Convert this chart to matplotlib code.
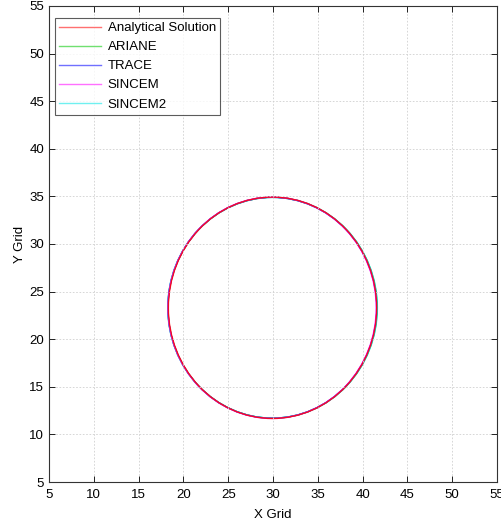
import matplotlib
matplotlib.use("Agg")
import matplotlib.pyplot as plt
from matplotlib.patches import Ellipse
from matplotlib.lines import Line2D

# trajectories: centre and extent (x width, y height)
names = ["Analytical Solution", "ARIANE", "TRACE", "SINCEM", "SINCEM2"]
colors = ["#ff0000", "#00c000", "#0000ff", "#ff00ff", "#00e0e0"]
legend_colors = ["#ff7070", "#70e070", "#7070ff", "#ff70ff", "#70f0f0"]
center_x = [29.95, 29.95, 29.92, 29.90, 29.95]
center_y = [23.30, 23.30, 23.30, 23.30, 23.30]
width_x = [23.25, 23.35, 23.30, 23.25, 23.40]
height_y = [23.25, 23.20, 23.20, 23.25, 23.20]
draw_order = [1, 2, 4, 3, 0]

xticks = list(range(5, 56, 5))
yticks = list(range(5, 56, 5))

plt.rcParams['font.family'] = ['Liberation Sans', 'DejaVu Sans']
fig = plt.figure(figsize=(5.02, 5.25), dpi=100)
ax = fig.add_axes([0.0976, 0.0819, 0.8924, 0.9067])

for i in draw_order:
    ax.add_patch(Ellipse((center_x[i], center_y[i]), width_x[i], height_y[i],
                         fill=False, edgecolor=colors[i], linewidth=1.0, alpha=0.85))

ax.set_xlim(5, 55)
ax.set_ylim(5, 55)
ax.set_xticks(xticks)
ax.set_yticks(yticks)
ax.tick_params(direction='in', top=True, right=True, labelsize=9.5, length=4, width=0.6)
ax.tick_params(axis='x', pad=5)
ax.grid(True, linestyle=(0, (2, 2)), color='#d0d0d0', linewidth=0.6)
for s in ax.spines.values():
    s.set_linewidth(0.8)
    s.set_color('#333333')

ax.set_xlabel("X Grid", fontsize=9.5, labelpad=6)
ax.set_ylabel("Y Grid", fontsize=9.5, labelpad=2)

handles = [Line2D([], [], color=c, linewidth=1.0) for c in legend_colors]
leg = ax.legend(handles, names, loc='upper left', fontsize=9.5, frameon=True,
                fancybox=False, edgecolor='#333333', borderaxespad=0,
                bbox_to_anchor=(6 / 448, 1 - 12 / 476),
                handlelength=3.2, handletextpad=0.5, labelspacing=0.52,
                borderpad=0.3)
leg.get_frame().set_linewidth(0.8)

fig.savefig("out.png", dpi=100)
